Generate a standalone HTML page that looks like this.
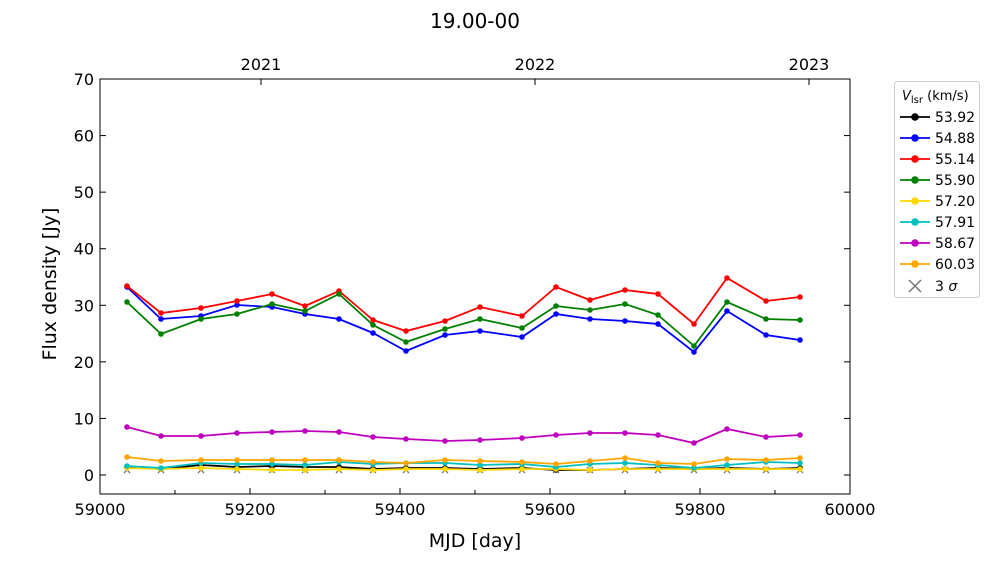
<!DOCTYPE html>
<html><head><style>body{margin:0;background:#fff}svg{display:block}text{font-family:"DejaVu Sans","Liberation Sans",sans-serif;fill:#000}</style></head>
<body>
<svg width="1000" height="562" xmlns="http://www.w3.org/2000/svg">
<text x="475" y="28" font-size="20" text-anchor="middle">19.00-00</text>
<rect x="100" y="79" width="750" height="415" fill="none" stroke="#000" stroke-width="1"/>
<g id="ticks" stroke="#000" stroke-width="1"></g>
<g id="labels" font-size="16"></g>
<text x="475" y="547" font-size="19" text-anchor="middle">MJD [day]</text>
<text transform="translate(56,284) rotate(-90)" font-size="19" text-anchor="middle">Flux density [Jy]</text>
<g id="series"></g>
<rect x="894.5" y="81.5" width="85" height="216" rx="3" fill="#fff" stroke="#ccc"/>
<text x="902" y="100" font-size="13"><tspan font-style="italic">V</tspan><tspan font-size="10" dy="3">lsr</tspan><tspan dy="-3"> (km/s)</tspan></text>
<g id="legend" font-size="14"></g>
<text x="935" y="291" font-size="14">3 <tspan font-style="italic">σ</tspan></text>
<script>
const X=[127,161,201,237,272,305,339,373,406,445,480,522,556,590,625,658,694,727,766,800];
const S=[
["#000",[467,469,465,467,466,467,467,469,468,468,469,468,470,470,469,468,469,468,469,468],"53.92"],
["#00f",[287,319,316,305,307,314,319,333,351,335,331,337,314,319,321,324,352,311,335,340],"54.88"],
["#f00",[286,313,308,301,294,306,291,320,331,321,307,316,287,300,290,294,324,278,301,297],"55.14"],
["#008000",[302,334,319,314,304,311,294,325,342,329,319,328,306,310,304,315,346,302,319,320],"55.90"],
["#ffd700",[468,469,468,469,470,470,469,470,469,469,470,469,469,470,469,469,469,469,469,469],"57.20"],
["#00bfbf",[466,468,463,464,464,465,462,464,463,463,465,464,467,464,463,465,468,465,462,463],"57.91"],
["#bf00bf",[427,436,436,433,432,431,432,437,439,441,440,438,435,433,433,435,443,429,437,435],"58.67"],
["#ffa500",[457,461,460,460,460,460,460,462,463,460,461,462,464,461,458,463,464,459,460,458],"60.03"]];
const ns="http://www.w3.org/2000/svg";
function el(t,a,p){const e=document.createElementNS(ns,t);for(const k in a)e.setAttribute(k,a[k]);p.appendChild(e);return e;}
const tk=document.getElementById('ticks'),lb=document.getElementById('labels'),sr=document.getElementById('series'),lg=document.getElementById('legend');
for(let i=0;i<=5;i++){const x=100+150*i;el('line',{x1:x,y1:494,x2:x,y2:488},tk);const t=el('text',{x:x,y:515,'text-anchor':'middle'},lb);t.textContent=59000+200*i;}
for(let i=0;i<5;i++){const x=175+150*i;el('line',{x1:x,y1:494,x2:x,y2:490},tk);}
for(let v=0;v<=70;v+=10){const y=475-5.657*v;el('line',{x1:100,y1:y,x2:106,y2:y},tk);el('line',{x1:850,y1:y,x2:844,y2:y},tk);const t=el('text',{x:94,y:y+6,'text-anchor':'end'},lb);t.textContent=v;}
[[261,'2021'],[535,'2022'],[809,'2023']].forEach(([x,s])=>{el('line',{x1:x,y1:79,x2:x,y2:85},tk);const t=el('text',{x:x,y:70,'text-anchor':'middle'},lb);t.textContent=s;});
X.forEach(x=>{const y=470;el('path',{d:`M${x-3} ${y-3}L${x+3} ${y+3}M${x-3} ${y+3}L${x+3} ${y-3}`,stroke:'#777','stroke-width':1.3},sr);});
S.forEach(([c,ys])=>{el('polyline',{points:X.map((x,i)=>x+','+ys[i]).join(' '),fill:'none',stroke:c,'stroke-width':1.8},sr);X.forEach((x,i)=>el('circle',{cx:x,cy:ys[i],r:2.8,fill:c},sr));});
S.forEach(([c,ys,n],i)=>{const y=117+21*i;el('line',{x1:900,y1:y,x2:930,y2:y,stroke:c,'stroke-width':1.8},lg);el('circle',{cx:915,cy:y,r:3.8,fill:c},lg);const t=el('text',{x:935,y:y+5},lg);t.textContent=n;});
el('path',{d:'M909 280L921 292M909 292L921 280',stroke:'#777','stroke-width':1.5},lg);
</script>
</svg>
</body></html>
